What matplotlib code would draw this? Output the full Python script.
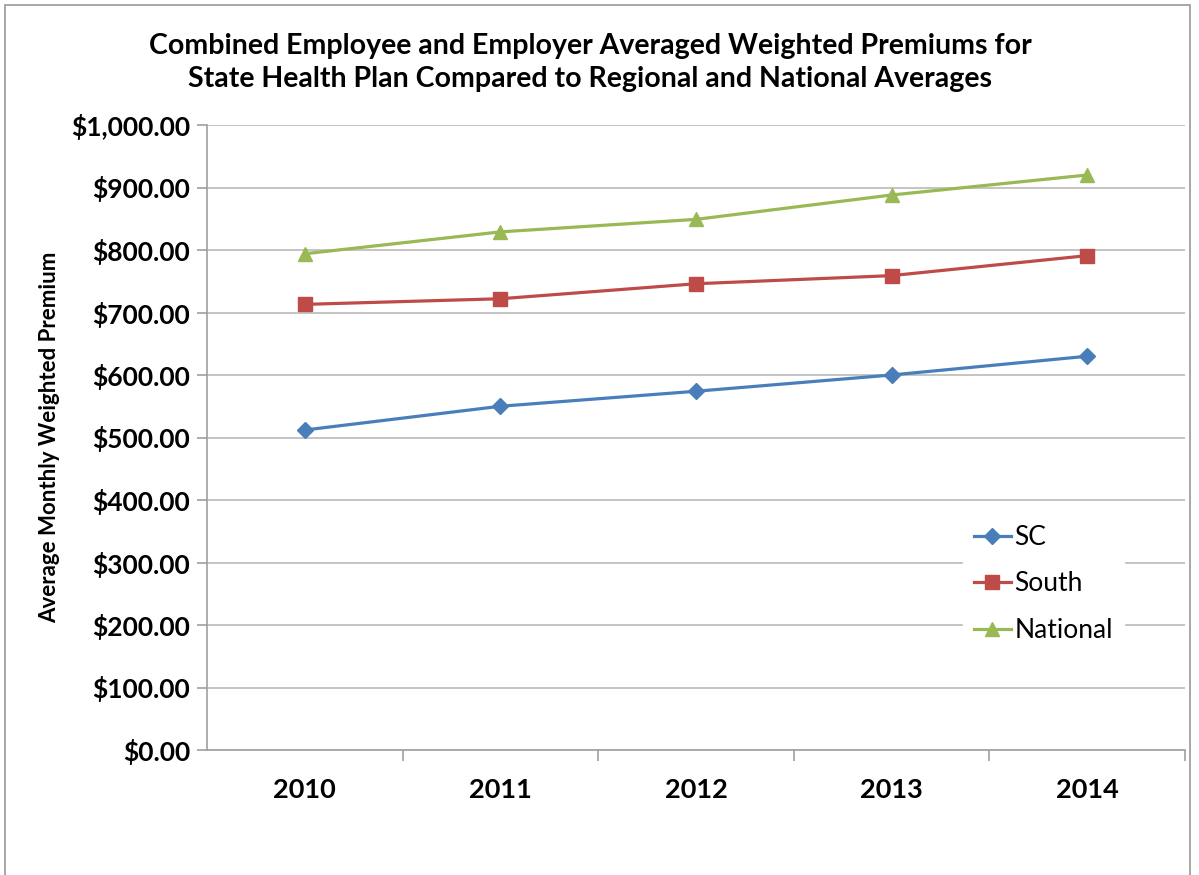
import matplotlib
matplotlib.use("Agg")
import matplotlib.pyplot as plt
from matplotlib.patches import Rectangle
from matplotlib.ticker import FuncFormatter, FixedLocator

years = ["2010", "2011", "2012", "2013", "2014"]
sc = [512, 550, 574, 600, 630]
south = [713, 722, 746, 759, 791]
national = [794, 829, 849, 888, 920]
series_names = ["SC", "South", "National"]

plt.rcParams['font.family'] = ['Lato', 'DejaVu Sans']

fig = plt.figure(figsize=(11.99, 8.75), dpi=100)
ax = fig.add_axes([207/1199, 1-750/875, (1185-207)/1199, (750-125)/875])

x = list(range(len(years)))
ax.plot(x, sc, color="#4A7EBB", lw=2.3, marker="D", ms=8.5, label=series_names[0], zorder=3)
ax.plot(x, south, color="#BE4B48", lw=2.3, marker="s", ms=9.5, label=series_names[1], zorder=3)
ax.plot(x, national, color="#98B954", lw=2.3, marker="^", ms=10.5, label=series_names[2], zorder=3)

ax.set_xlim(-0.5, len(years) - 0.5)
ax.set_ylim(0, 1000)
ax.set_yticks(range(0, 1001, 100))
ax.yaxis.set_major_formatter(FuncFormatter(lambda v, p: f"${v:,.2f}"))
ax.grid(axis="y", color="#BFBFBF", lw=1.3, zorder=0)
ax.set_axisbelow(True)

ax.set_xticks(x)
ax.set_xticklabels(years, fontsize=19.5, fontweight="bold")
ax.xaxis.set_minor_locator(FixedLocator([i + 0.5 for i in range(len(years))]))
ax.tick_params(axis="x", which="major", length=0, pad=20)
ax.tick_params(axis="x", which="minor", length=8, color="#A0A0A0", width=1.2)
ax.tick_params(axis="y", length=7, color="#A0A0A0", width=1.2, labelsize=19, pad=5)
for lab in ax.get_yticklabels():
    lab.set_fontweight("bold")

for side in ["top", "right"]:
    ax.spines[side].set_visible(False)
ax.spines["left"].set_color("#A0A0A0")
ax.spines["bottom"].set_color("#A0A0A0")
ax.spines["left"].set_linewidth(1.2)
ax.spines["bottom"].set_linewidth(1.2)

ax.set_ylabel("Average Monthly Weighted Premium", fontsize=16, fontweight="bold", labelpad=8)

fig.text(590/1199, 1-46/875, "Combined Employee and Employer Averaged Weighted Premiums for",
         ha="center", va="center", fontsize=20.5, fontweight="bold")
fig.text(590/1199, 1-79/875, "State Health Plan Compared to Regional and National Averages",
         ha="center", va="center", fontsize=20.5, fontweight="bold")

leg = ax.legend(loc="upper left", bbox_to_anchor=((950-207)/(1185-207), (750-501)/625),
                fontsize=19, frameon=True, fancybox=False, edgecolor="white",
                facecolor="white", framealpha=1, handlelength=1.4, handletextpad=0.15,
                labelspacing=0.82, borderpad=0.4)

fig.patches.append(Rectangle((5/1199, -0.01), (1190-5)/1199, 1.01 - 5/875,
                             transform=fig.transFigure, fill=False,
                             edgecolor="#A0A0A0", lw=1.3))

fig.savefig("out.png", dpi=100, facecolor="white")
